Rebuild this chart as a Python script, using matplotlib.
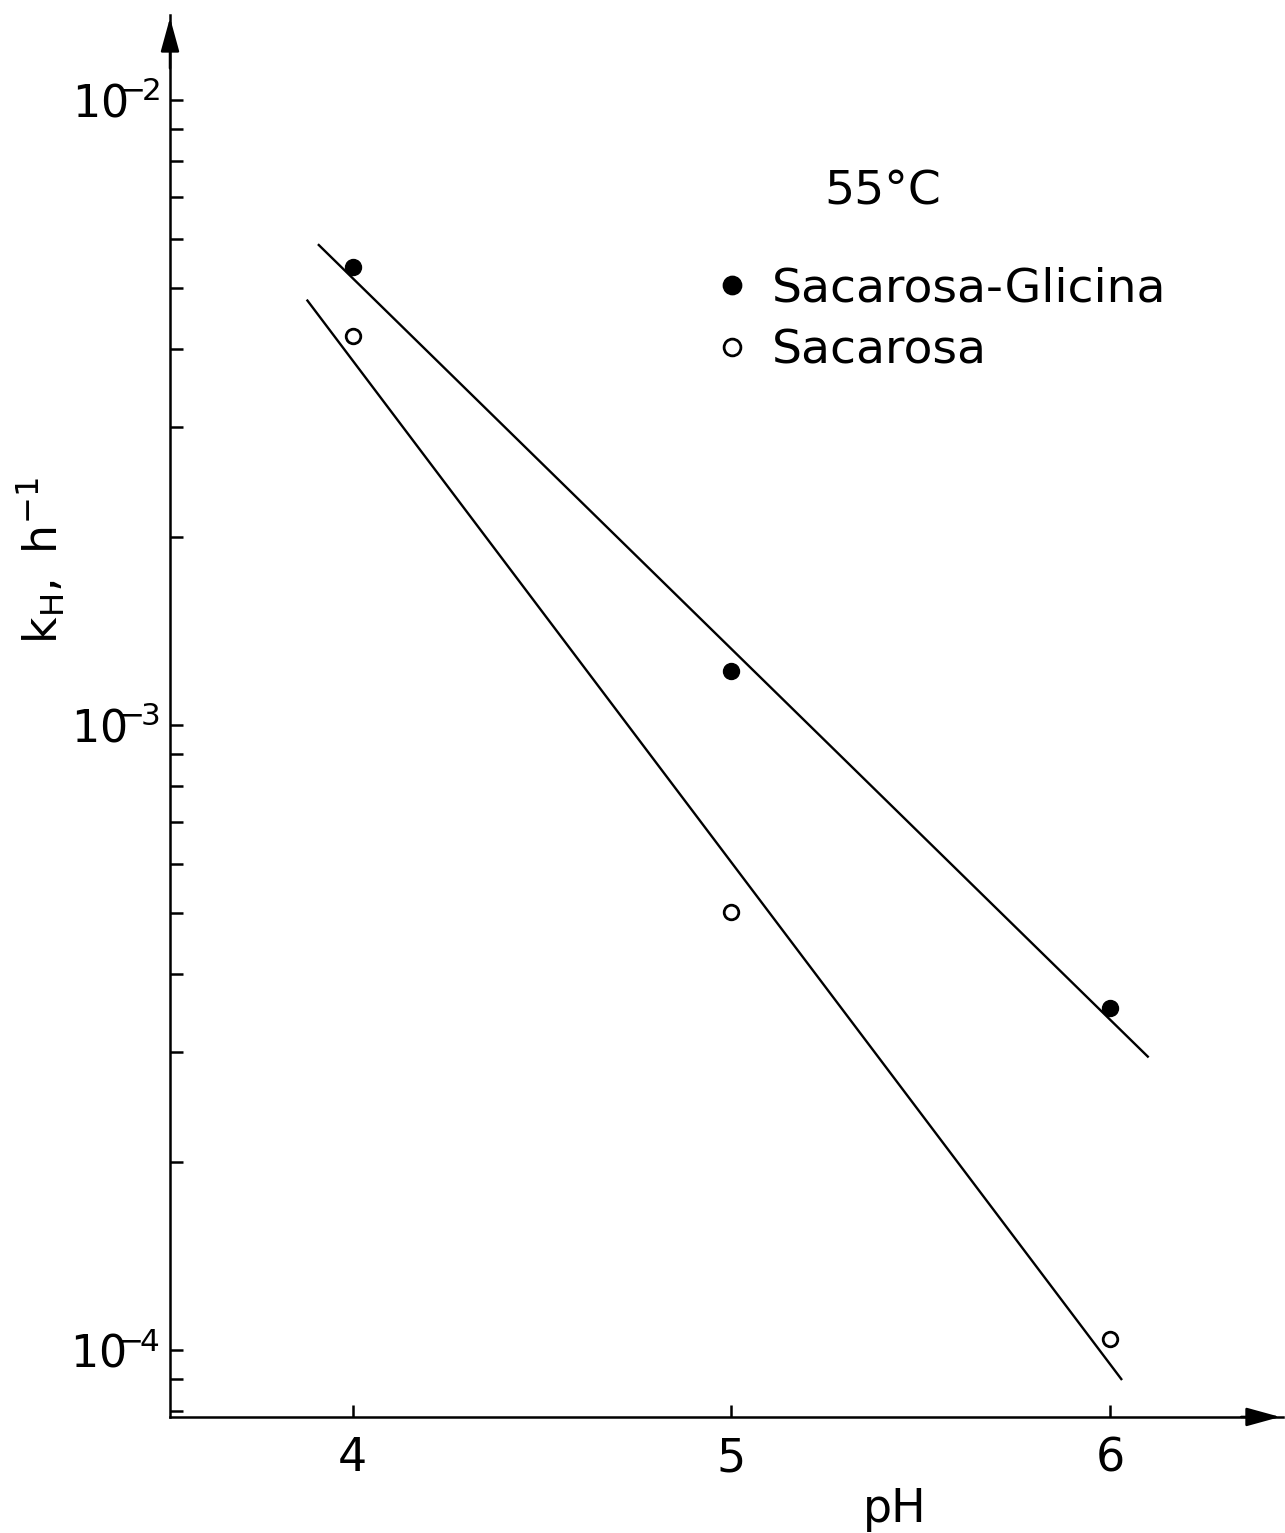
import numpy as np
import matplotlib
matplotlib.use("Agg")
from matplotlib import pyplot as plt
from matplotlib.ticker import FixedLocator, LogLocator, FuncFormatter, NullFormatter

# k_H (1/h) vs pH at 55 C
ph = [4, 5, 6]
k_gly = [5.4e-3, 1.22e-3, 3.52e-4]   # sacarosa + glicina
k_suc = [4.19e-3, 5.03e-4, 1.04e-4]  # sacarosa sola
fit_range_gly = [3.91, 6.10]
fit_range_suc = [3.88, 6.03]
x_ticks = [4, 5, 6]
y_decades = [1e-4, 1e-3, 1e-2]

plt.rcParams['font.family'] = ['DejaVu Sans']
plt.rcParams['mathtext.fontset'] = 'dejavusans'

fig = plt.figure(figsize=(12.85, 15.33), dpi=100)
ax = fig.add_axes([0.1323, 0.0757, 0.8661, 0.9145])
ax.set_yscale('log')
ax.set_xlim(3.517, 6.457)
ax.set_ylim(10**-4.107, 10**-1.864)

# straight-line fits in log space
for xs, ys, rng in [(ph, k_gly, fit_range_gly), (ph, k_suc, fit_range_suc)]:
  p = np.polyfit(xs, np.log10(ys), 1)
  xx = np.array(rng)
  ax.plot(xx, 10**np.polyval(p, xx), '-', color='k', lw=1.7)

ax.plot(ph, k_gly, 'o', color='k', ms=11.5, label='Sacarosa-Glicina')
ax.plot(ph, k_suc, 'o', mfc='white', mec='k', mew=2, ms=10.5, label='Sacarosa')

for s in ['top', 'right']:
  ax.spines[s].set_visible(False)
for s in ['left', 'bottom']:
  ax.spines[s].set_linewidth(1.8)

# arrow heads on the axes
ax.annotate('', xy=(0, 1), xytext=(0, 0.96), xycoords='axes fraction',
            arrowprops=dict(arrowstyle='-|>,head_length=0.8,head_width=0.22',
                            color='k', lw=1.8, mutation_scale=26))
ax.annotate('', xy=(1, 0), xytext=(0.96, 0), xycoords='axes fraction',
            arrowprops=dict(arrowstyle='-|>,head_length=0.8,head_width=0.22',
                            color='k', lw=1.8, mutation_scale=26))

ax.xaxis.set_major_locator(FixedLocator(x_ticks))
ax.yaxis.set_major_locator(FixedLocator(y_decades))
ax.yaxis.set_minor_locator(LogLocator(base=10, subs=np.arange(2, 10), numticks=20))
ax.yaxis.set_minor_formatter(NullFormatter())
# exponent minus tucked over the zero
ax.yaxis.set_major_formatter(FuncFormatter(
  lambda v, pos: r'$\mathregular{10^{\!\!\!-\!\!%d}}$' % round(-np.log10(v))))

ax.tick_params(axis='y', which='both', direction='in', length=9.5, width=1.8,
               labelsize=32, pad=7)
ax.tick_params(axis='x', which='major', direction='in', length=9, width=1.8,
               labelsize=33, pad=14)
ax.tick_params(axis='x', which='minor', length=0)

ax.set_xlabel('pH', fontsize=33)
ax.xaxis.set_label_coords(0.651, -0.05)
ax.set_ylabel(r'$\mathregular{k_H,\ h^{-1}}$', fontsize=33)
ax.yaxis.set_label_coords(-0.092, 0.611)

ax.text(0.64, 0.874, '55°C', transform=ax.transAxes, fontsize=34,
        ha='center', va='center')
ax.legend(loc='upper left', bbox_to_anchor=(0.475, 0.834), frameon=False,
          fontsize=34, handlelength=0.6, handletextpad=0.55, labelspacing=0.35,
          borderaxespad=0, markerscale=1.15)

fig.savefig('out.png', dpi=100)
